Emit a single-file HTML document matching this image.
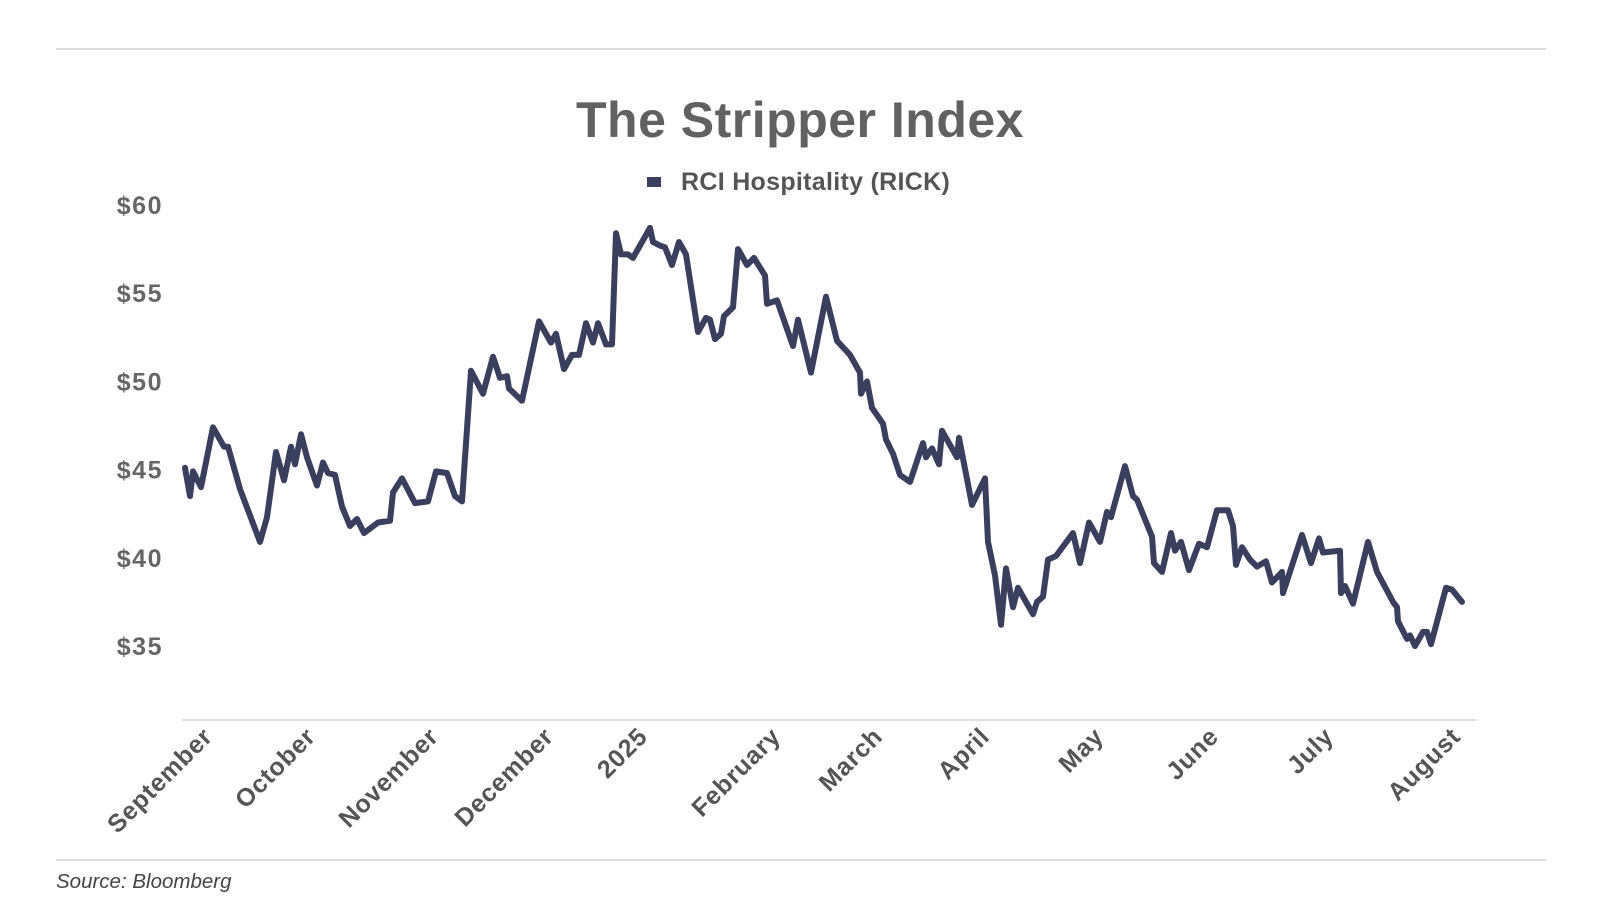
<!DOCTYPE html>
<html><head><meta charset="utf-8"><style>
html,body{margin:0;padding:0;background:#fff;}
svg{display:block;font-family:"Liberation Sans",sans-serif;}
</style></head><body>
<svg id="chart" width="1600" height="900" viewBox="0 0 1600 900">
<line x1="56" y1="49" x2="1546" y2="49" stroke="#dcdcdc" stroke-width="2"/>
<text x="800" y="137" text-anchor="middle" font-size="50" font-weight="bold" fill="#616161" letter-spacing="0.5">The Stripper Index</text>
<g>
<rect x="647" y="177" width="14" height="10" fill="#3a3f5e"/>
<text x="681" y="190" font-size="25" font-weight="bold" fill="#555" letter-spacing="0.3">RCI Hospitality (RICK)</text>
</g>
<line x1="182" y1="720" x2="1477" y2="720" stroke="#e0e0e0" stroke-width="2"/>
<g id="yticks"></g>
<g id="xticks"></g>
<path id="series" fill="none" stroke="#3a3f5e" stroke-width="6" stroke-linejoin="round" stroke-linecap="round"/>
<line x1="56" y1="860" x2="1546" y2="860" stroke="#dcdcdc" stroke-width="2"/>
<text x="56" y="888" font-size="20.5" font-style="italic" fill="#444">Source: Bloomberg</text>
</svg>
<script>
const yTickValues = [60, 55, 50, 45, 40, 35];
const monthLabels = ["September","October","November","December","2025","February","March","April","May","June","July","August"];
const monthDays = [31,134,257,372,466,599,701,808,922,1037,1152,1279];
const days = [0,5,8,16,28,39,43,55,75,82,91,99,106,110,116,122,132,138,143,150,157,165,172,179,193,205,208,217,230,243,251,262,270,277,286,298,308,315,322,324,337,354,366,371,379,387,394,401,408,413,421,427,431,436,443,448,465,468,475,
480,487,494,501,513,521,525,530,536,539,548,553,562,569,580,582,592,608,613,626,641,652,665,675,676,682,687,698,701,708,715,725,738,741,747,754,757,772,774,787,800,803,810,816,821,828,833,848,852,858,863,871,888,895,904,915,
922,926,940,948,952,967,969,977,986,990,996,1004,1014,1022,1032,1043,1048,1051,1057,1065,1072,1081,1087,1097,1098,1117,1126,1134,1138,1155,1156,1160,1168,1183,1192,1208,1212,1213,1222,1225,1230,1238,1242,1246,1261,1267,1277];
const prices = [45.1,43.5,44.9,44.0,47.4,46.3,46.3,43.9,40.9,42.3,46.0,44.4,46.3,45.3,47.0,45.7,44.1,45.4,44.8,44.7,42.9,41.8,42.2,41.4,42.0,42.1,43.7,44.5,43.1,43.2,44.9,44.8,43.5,43.2,50.6,49.3,51.4,50.2,50.3,49.6,48.9,53.4,52.2,52.7,50.7,51.5,51.5,53.3,52.2,53.3,52.1,52.1,58.4,57.2,57.2,57.0,58.7,57.9,57.7,
57.6,56.6,57.9,57.2,52.8,53.6,53.5,52.4,52.7,53.7,54.2,57.5,56.6,57.0,56.0,54.4,54.6,52.0,53.5,50.5,54.8,52.3,51.5,50.5,49.3,50.0,48.5,47.6,46.7,45.9,44.7,44.3,46.5,45.7,46.2,45.3,47.2,45.7,46.8,43.0,44.5,40.9,39.0,36.2,39.4,37.2,38.3,36.8,37.5,37.8,39.9,40.1,41.4,39.7,42.0,40.9,
42.6,42.3,45.2,43.5,43.3,41.2,39.7,39.2,41.4,40.4,40.9,39.3,40.8,40.6,42.7,42.7,41.8,39.6,40.6,39.9,39.5,39.8,38.6,39.2,38.0,41.3,39.7,41.1,40.3,40.4,38.0,38.4,37.4,40.9,39.2,37.5,37.2,36.4,35.4,35.6,35.0,35.8,35.8,35.1,38.3,38.2,37.5];

const NS = "http://www.w3.org/2000/svg";
const xScale = d => 182 + (d + 3) * (1477 - 182) / 1295;
const yScale = v => 646 - (v - 35) * (646 - 205) / 25;

const yg = document.getElementById('yticks');
yTickValues.forEach(v => {
  const t = document.createElementNS(NS, 'text');
  t.setAttribute('x', 163);
  t.setAttribute('y', yScale(v) + 9);
  t.setAttribute('text-anchor', 'end');
  t.setAttribute('font-size', '25');
  t.setAttribute('font-weight', 'bold');
  t.setAttribute('letter-spacing', '1.5');
  t.setAttribute('fill', '#666');
  t.textContent = '$' + v;
  
  
  yg.appendChild(t);
});

const xg = document.getElementById('xticks');
monthLabels.forEach((m, i) => {
  const x = xScale(monthDays[i]) - 2;
  const y = 738;
  const t = document.createElementNS(NS, 'text');
  t.setAttribute('x', x);
  t.setAttribute('y', y);
  t.setAttribute('text-anchor', 'end');
  t.setAttribute('font-size', '25');
  t.setAttribute('font-weight', 'bold');
  t.setAttribute('letter-spacing', '0.8');
  t.setAttribute('fill', '#555');
  t.setAttribute('transform', 'rotate(-45 ' + x + ' ' + y + ')');
  t.textContent = m;
  
  
  xg.appendChild(t);
});

let d = '';
days.forEach((day, i) => {
  d += (i ? 'L' : 'M') + xScale(day).toFixed(1) + ' ' + yScale(prices[i]).toFixed(1);
});
document.getElementById('series').setAttribute('d', d);
</script>
</body></html>
